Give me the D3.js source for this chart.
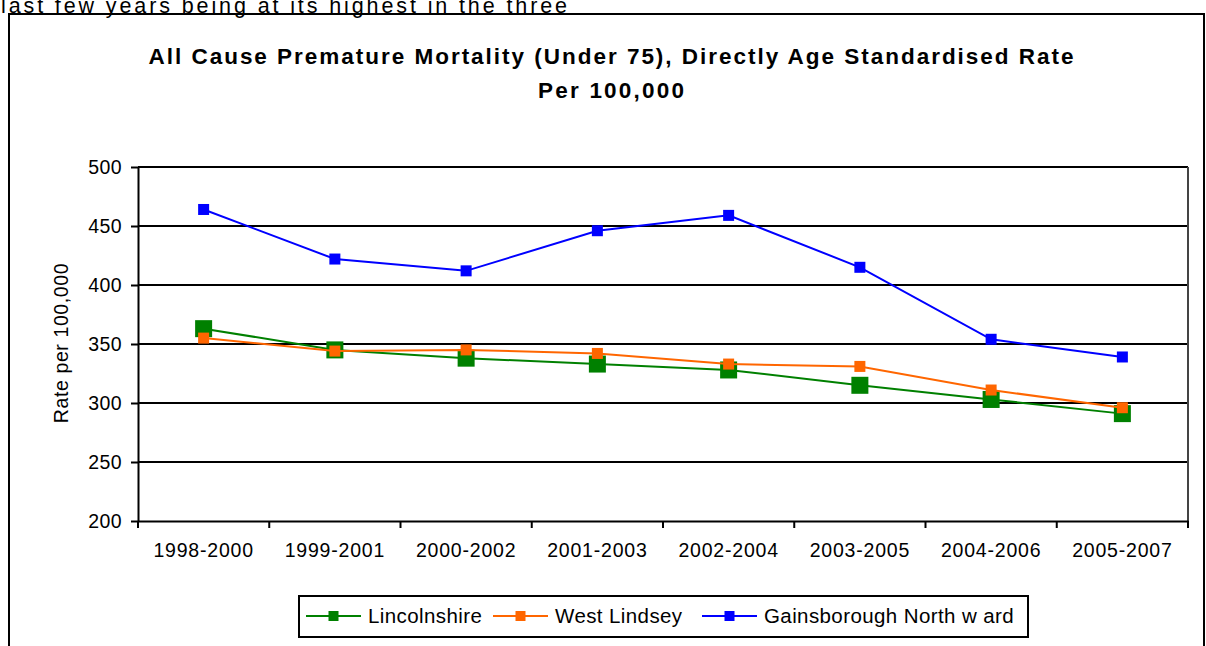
<!DOCTYPE html>
<html>
<head>
<meta charset="utf-8">
<script src="https://cdn.jsdelivr.net/npm/d3@7"></script>
<style>
  html, body { margin: 0; padding: 0; background: #fff; }
  svg { display: block; font-family: "Liberation Sans", Arial, sans-serif; }
</style>
</head>
<body>
<svg id="chart" width="1206" height="646"></svg>
<script>
const categories = ["1998-2000","1999-2001","2000-2002","2001-2003","2002-2004","2003-2005","2004-2006","2005-2007"];
const lincolnshire = [363, 345, 338, 333, 328, 315, 303, 291];
const westLindsey = [355, 344, 345, 342, 333, 331, 311, 296];
const gainsborough = [464, 422, 412, 446, 459, 415, 354, 339];
const yTicks = [200, 250, 300, 350, 400, 450, 500];
const seriesNames = ["Lincolnshire", "West Lindsey", "Gainsborough North w ard"];
const titleLines = ["All Cause Premature Mortality (Under 75), Directly Age Standardised Rate", "Per 100,000"];
const yAxisLabel = "Rate per 100,000";
const introText = "last few years being at its highest in the three";

const series = [
  { name: seriesNames[0], values: lincolnshire, color: "#008000", size: 17, legendSize: 10 },
  { name: seriesNames[1], values: westLindsey, color: "#FF6600", size: 11, legendSize: 10 },
  { name: seriesNames[2], values: gainsborough, color: "#0000FF", size: 11, legendSize: 10 }
];

const svg = d3.select("#chart");

// top running text (partly cut by the page edge, as in the source)
svg.append("text").attr("x", 1).attr("y", 13)
  .attr("font-size", 21.5).attr("fill", "#000")
  .attr("textLength", 566).attr("lengthAdjust", "spacing")
  .text(introText);

// chart outer border
svg.append("rect").attr("x", 9).attr("y", 14).attr("width", 1195).attr("height", 700)
  .attr("fill", "none").attr("stroke", "#000").attr("stroke-width", 2);

const plot = { left: 138, right: 1188, top: 167, bottom: 521 };

const x = d3.scaleBand().domain(categories).range([plot.left, plot.right]).paddingInner(0).paddingOuter(0);
const y = d3.scaleLinear().domain([200, 500]).range([plot.bottom, plot.top]);

// title
svg.append("text").attr("x", 611).attr("y", 64).attr("text-anchor", "middle")
  .attr("font-size", 22.5).attr("font-weight", "bold")
  .attr("textLength", 925).attr("lengthAdjust", "spacing")
  .text(titleLines[0]);
svg.append("text").attr("x", 611).attr("y", 98).attr("text-anchor", "middle")
  .attr("font-size", 22.5).attr("font-weight", "bold")
  .attr("textLength", 146).attr("lengthAdjust", "spacing")
  .text(titleLines[1]);

// gridlines
svg.append("g").selectAll("line").data(yTicks.filter(d => d > 200)).join("line")
  .attr("x1", plot.left).attr("x2", plot.right)
  .attr("y1", d => y(d)).attr("y2", d => y(d))
  .attr("stroke", "#000").attr("stroke-width", 2);

// right plot border
svg.append("line").attr("x1", plot.right).attr("x2", plot.right)
  .attr("y1", plot.top).attr("y2", plot.bottom)
  .attr("stroke", "#444").attr("stroke-width", 2);

// y axis
const yAxis = svg.append("g").attr("transform", `translate(${plot.left},0)`)
  .call(d3.axisLeft(y).tickValues(yTicks).tickSize(7).tickPadding(9).tickSizeOuter(0));
yAxis.select(".domain").attr("stroke", "#000").attr("stroke-width", 2);
yAxis.selectAll(".tick line").attr("stroke", "#000").attr("stroke-width", 2);
yAxis.selectAll(".tick text").attr("font-size", 19.5).attr("font-family", "Liberation Sans, Arial, sans-serif")
  .attr("fill", "#000").attr("letter-spacing", 0.4).attr("dy", "0.35em");

// x axis
const xAxis = svg.append("g").attr("transform", `translate(0,${plot.bottom})`)
  .call(d3.axisBottom(x).tickSize(0).tickPadding(22));
xAxis.select(".domain").attr("stroke", "#000").attr("stroke-width", 2);
xAxis.selectAll(".tick text").attr("font-size", 19.5).attr("font-family", "Liberation Sans, Arial, sans-serif")
  .attr("fill", "#000").attr("letter-spacing", 0.8);
// category boundary ticks
const bounds = categories.map(c => x(c)).concat([plot.right]);
svg.append("g").selectAll("line").data(bounds).join("line")
  .attr("x1", d => d).attr("x2", d => d)
  .attr("y1", plot.bottom).attr("y2", plot.bottom + 7)
  .attr("stroke", "#000").attr("stroke-width", 2);

// y axis label
svg.append("text").attr("transform", `translate(68,343) rotate(-90)`)
  .attr("text-anchor", "middle").attr("font-size", 19.5).attr("letter-spacing", 0.6)
  .text(yAxisLabel);

// lines and markers
const line = d3.line().x((d, i) => x(categories[i]) + x.bandwidth() / 2).y(d => y(d));
series.forEach(s => {
  svg.append("path").datum(s.values).attr("d", line)
    .attr("fill", "none").attr("stroke", s.color).attr("stroke-width", 2);
  svg.append("g").selectAll("rect").data(s.values).join("rect")
    .attr("x", (d, i) => x(categories[i]) + x.bandwidth() / 2 - s.size / 2)
    .attr("y", d => y(d) - s.size / 2)
    .attr("width", s.size).attr("height", s.size)
    .attr("fill", s.color);
});

// legend
const legend = svg.append("g");
legend.append("rect").attr("x", 299).attr("y", 596).attr("width", 729).attr("height", 41)
  .attr("fill", "#fff").attr("stroke", "#000").attr("stroke-width", 2);
const legendX = [306, 493, 702];
series.forEach((s, i) => {
  const lx = legendX[i];
  legend.append("line").attr("x1", lx).attr("x2", lx + 55).attr("y1", 616).attr("y2", 616)
    .attr("stroke", s.color).attr("stroke-width", 2);
  legend.append("rect").attr("x", lx + 27.5 - s.legendSize / 2).attr("y", 616 - s.legendSize / 2)
    .attr("width", s.legendSize).attr("height", s.legendSize).attr("fill", s.color);
  legend.append("text").attr("x", lx + 62).attr("y", 623).attr("font-size", 20.5)
    .attr("letter-spacing", 0.4).text(s.name);
});
</script>
</body>
</html>
